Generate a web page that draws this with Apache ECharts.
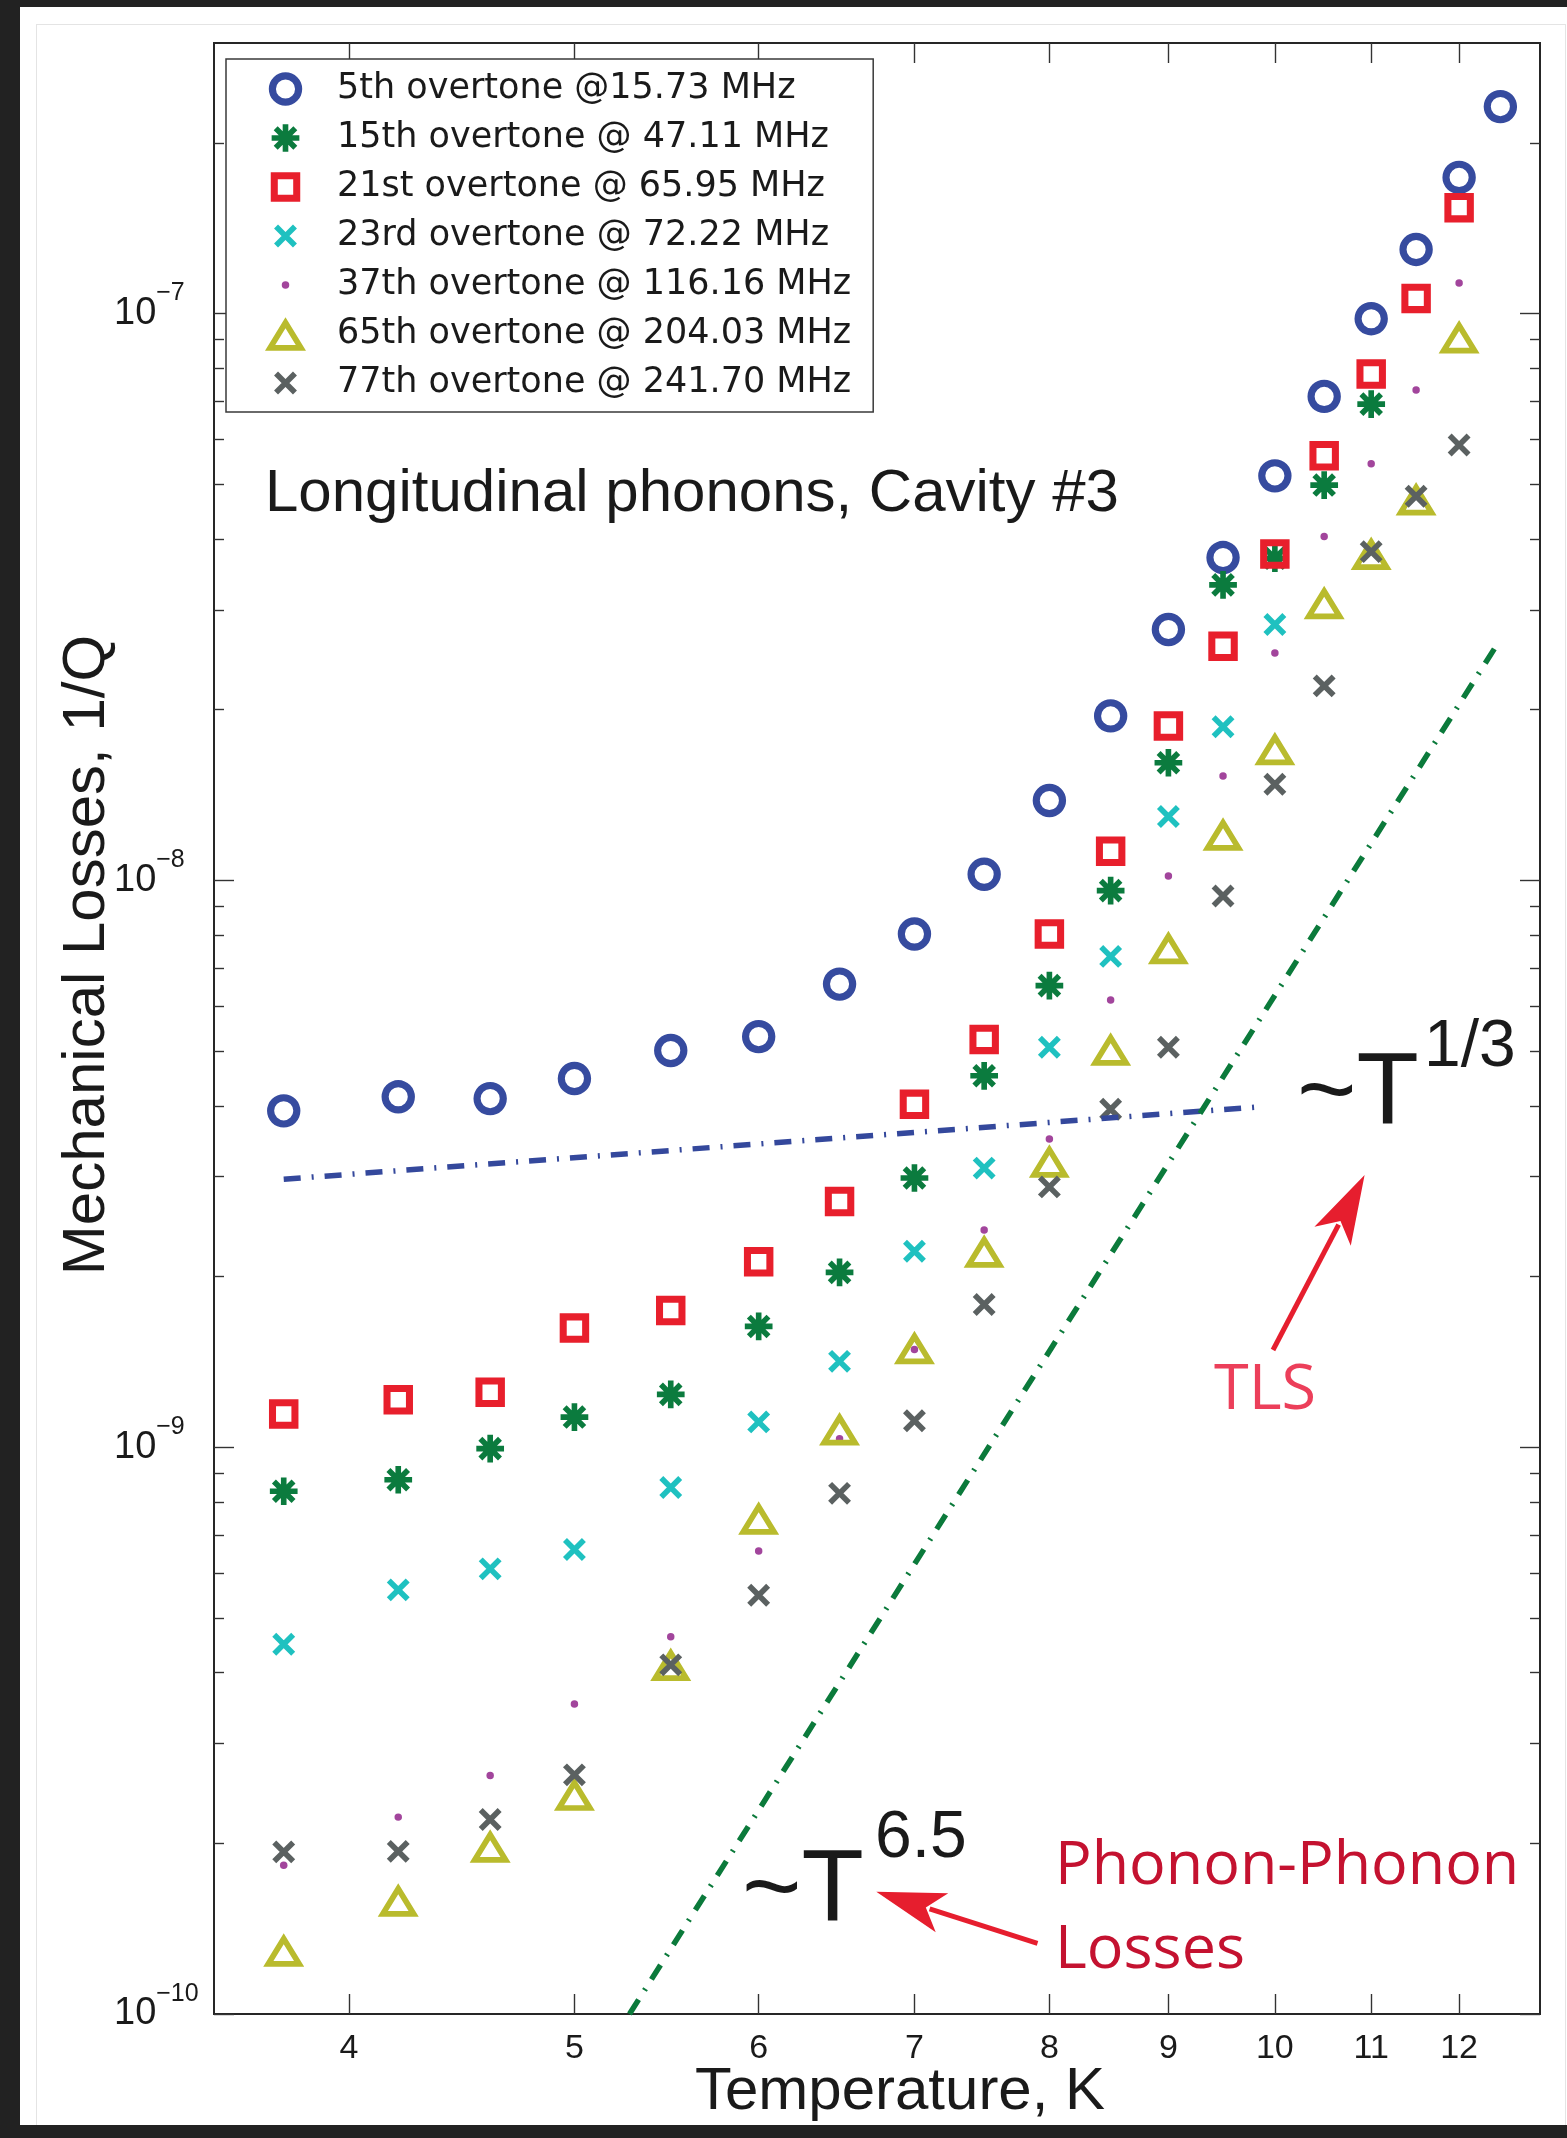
<!DOCTYPE html>
<html>
<head>
<meta charset="utf-8">
<title>Longitudinal phonons, Cavity #3</title>
<script src="https://cdn.jsdelivr.net/npm/echarts@6/dist/echarts.min.js"></script>
<style>
  html, body { margin: 0; padding: 0; width: 1567px; height: 2138px; background: #222222; overflow: hidden; }
  #sheet { position: absolute; left: 20px; top: 7px; width: 1547px; height: 2118px; background: #ffffff; }
  #edge { position: absolute; left: 36px; top: 24px; width: 1530px; height: 2101px; box-sizing: border-box;
          border-left: 1px solid #e4e4e4; border-top: 1px solid #e4e4e4; border-right: 1px solid #e4e4e4; }
  #chart { position: absolute; left: 0; top: 0; width: 1567px; height: 2138px; }
</style>
</head>
<body>
<div id="sheet"></div>
<div id="edge"></div>
<div id="chart"></div>
<script>
// Measurement temperatures, K (each overtone list below starts at the first one)
const temperatures = [3.75, 4.2, 4.6, 5, 5.5, 6, 6.5, 7, 7.5, 8, 8.5, 9, 9.5, 10, 10.5, 11, 11.5, 12, 12.5];

// Mechanical losses 1/Q for each overtone
const loss5th  = [3.92e-9, 4.15e-9, 4.12e-9, 4.47e-9, 5.01e-9, 5.30e-9, 6.56e-9, 8.04e-9, 1.025e-8, 1.383e-8,
                  1.95e-8, 2.77e-8, 3.71e-8, 5.17e-8, 7.14e-8, 9.79e-8, 1.297e-7, 1.738e-7, 2.317e-7];
const loss15th = [8.36e-10, 8.76e-10, 9.94e-10, 1.13e-9, 1.239e-9, 1.633e-9, 2.034e-9, 2.984e-9, 4.52e-9, 6.52e-9,
                  9.59e-9, 1.612e-8, 3.32e-8, 3.70e-8, 4.98e-8, 6.92e-8];
const loss21st = [1.144e-9, 1.212e-9, 1.25e-9, 1.622e-9, 1.742e-9, 2.123e-9, 2.712e-9, 4.025e-9, 5.24e-9, 8.04e-9,
                  1.125e-8, 1.872e-8, 2.587e-8, 3.763e-8, 5.61e-8, 7.82e-8, 1.063e-7, 1.537e-7];
const loss23rd = [4.49e-10, 5.60e-10, 6.10e-10, 6.60e-10, 8.49e-10, 1.108e-9, 1.417e-9, 2.216e-9, 3.107e-9, 5.075e-9,
                  7.34e-9, 1.296e-8, 1.866e-8, 2.827e-8];
const loss37th = [1.83e-10, 2.225e-10, 2.634e-10, 3.523e-10, 4.63e-10, 6.56e-10, 1.035e-9, 1.487e-9, 2.415e-9, 3.497e-9,
                  6.15e-9, 1.018e-8, 1.527e-8, 2.518e-8, 4.04e-8, 5.43e-8, 7.33e-8, 1.132e-7];
const loss65th = [1.297e-10, 1.589e-10, 1.978e-10, 2.443e-10, 4.14e-10, 7.50e-10, 1.078e-9, 1.499e-9, 2.219e-9, 3.199e-9,
                  5.04e-9, 7.61e-9, 1.207e-8, 1.708e-8, 3.09e-8, 3.775e-8, 4.71e-8, 9.10e-8];
const loss77th = [1.932e-10, 1.936e-10, 2.203e-10, 2.642e-10, 4.13e-10, 5.48e-10, 8.29e-10, 1.113e-9, 1.785e-9, 2.878e-9,
                  3.945e-9, 5.075e-9, 9.38e-9, 1.477e-8, 2.203e-8, 3.80e-8, 4.76e-8, 5.86e-8];

// Power-law guides: TLS ~T^(1/3) and phonon-phonon ~T^6.5 (end points)
const tlsGuideT = [3.75, 9.9];
const tlsGuideQ = [2.97e-9, 3.99e-9];
const phononGuideT = [5.28, 12.47];
const phononGuideQ = [1.0e-10, 2.62e-8];

// Axis ticks
const xTicks = [4, 5, 6, 7, 8, 9, 10, 11, 12];
const yDecades = [1e-10, 1e-9, 1e-8, 1e-7];
const yMinor = [2e-10, 3e-10, 4e-10, 5e-10, 6e-10, 7e-10, 8e-10, 9e-10,
                2e-9, 3e-9, 4e-9, 5e-9, 6e-9, 7e-9, 8e-9, 9e-9,
                2e-8, 3e-8, 4e-8, 5e-8, 6e-8, 7e-8, 8e-8, 9e-8,
                2e-7];

const axisFont = 'Liberation Sans, Arial, Helvetica, sans-serif';
const inkColor = '#1a1a1a';
const frameColor = '#262626';

// Marker glyphs in a 0..100 box (the two leading moves pin the box so every glyph keeps its own size)
const glyph = {
  ring:     'path://M0 0M100 100M12.05 50A37.95 37.95 0 1 1 87.95 50A37.95 37.95 0 1 1 12.05 50Z' +
            'M28.3 50A21.7 21.7 0 1 0 71.7 50A21.7 21.7 0 1 0 28.3 50Z',
  asterisk: 'path://M0 0M100 100M43.6 18.5L56.4 18.5L56.4 81.5L43.6 81.5Z' +
            'M18.5 43.6L81.5 43.6L81.5 56.4L18.5 56.4Z' +
            'M32.2 23.2L76.8 67.8L67.8 76.8L23.2 32.2Z' +
            'M23.2 67.8L67.8 23.2L76.8 32.2L32.2 76.8Z',
  box:      'path://M0 0M100 100M16.5 16.5L83.5 16.5L83.5 83.5L16.5 83.5Z' +
            'M32.5 32.5L32.5 67.5L67.5 67.5L67.5 32.5Z',
  cross:    'path://M0 0M100 100M33 24L76 67L67 76L24 33Z' +
            'M24 67L67 24L76 33L33 76Z',
  dot:      'path://M0 0M100 100M41.5 50A8.5 8.5 0 1 1 58.5 50A8.5 8.5 0 1 1 41.5 50Z',
  delta:    'path://M0 0M100 100M50 11.95L96.6 88.05L3.4 88.05Z' +
            'M50 36.85L26.61 75.05L73.39 75.05Z'
};
const glyphSize = 44;

const overtones = [
  { name: '5th overtone @15.73 MHz',    values: loss5th,  symbol: glyph.ring,     color: '#364b9f' },
  { name: '15th overtone @ 47.11 MHz',  values: loss15th, symbol: glyph.asterisk, color: '#0b7b3e' },
  { name: '21st overtone @ 65.95 MHz',  values: loss21st, symbol: glyph.box,      color: '#e81f2c' },
  { name: '23rd overtone @ 72.22 MHz',  values: loss23rd, symbol: glyph.cross,    color: '#1fc1c0' },
  { name: '37th overtone @ 116.16 MHz', values: loss37th, symbol: glyph.dot,      color: '#a2459c' },
  { name: '65th overtone @ 204.03 MHz', values: loss65th, symbol: glyph.delta,    color: '#b9bb2d' },
  { name: '77th overtone @ 241.70 MHz', values: loss77th, symbol: glyph.cross,    color: '#5b6161' }
];

const pair = (ts, qs) => qs.map((q, i) => [ts[i], q]);

const scatterSeries = overtones.map(o => ({
  type: 'scatter',
  name: o.name,
  xAxisIndex: 0,
  yAxisIndex: 0,
  symbol: o.symbol,
  symbolSize: glyphSize,
  itemStyle: { color: o.color, borderWidth: 0, opacity: 1 },
  emphasis: { disabled: true },
  data: pair(temperatures, o.values),
  z: 3
}));

const guide = (name, ts, qs, color) => ({
  type: 'line',
  name: name,
  xAxisIndex: 0,
  yAxisIndex: 0,
  data: pair(ts, qs),
  symbol: 'none',
  silent: true,
  lineStyle: { color: color, width: 5.5, type: [17, 11, 2, 11], cap: 'butt' },
  emphasis: { disabled: true },
  z: 4
});

function xAxisDef(position, withLabels) {
  return {
    type: 'log', logBase: 10, min: 3.5, max: 13, position: position,
    axisLine: { show: true, onZero: false, lineStyle: { color: frameColor, width: 2 } },
    axisTick: { show: true, inside: true, length: 20, customValues: xTicks, lineStyle: { color: '#333333', width: 1.4 } },
    axisLabel: withLabels ? {
      show: true, customValues: xTicks, margin: 18,
      formatter: v => String(Math.round(v)),
      fontFamily: axisFont, fontSize: 34, lineHeight: 34, color: inkColor
    } : { show: false },
    splitLine: { show: false },
    minorTick: { show: false }
  };
}

function yAxisDef(position, ticks, tickLen, withLabels) {
  const axis = {
    type: 'log', logBase: 10, min: 1e-10, max: 3e-7, position: position,
    axisLine: { show: true, onZero: false, lineStyle: { color: frameColor, width: 2 } },
    axisTick: { show: true, inside: true, length: tickLen, customValues: ticks, lineStyle: { color: '#333333', width: 1.4 } },
    axisLabel: { show: false },
    splitLine: { show: false },
    minorTick: { show: false }
  };
  if (withLabels) {
    axis.axisLabel = {
      show: true, customValues: ticks, align: 'left', margin: 100,
      formatter: v => '{b|10}{s|\u2212' + Math.abs(Math.round(Math.log10(v))) + '}',
      rich: {
        b: { fontFamily: axisFont, fontSize: 38, lineHeight: 38, color: inkColor },
        s: { fontFamily: axisFont, fontSize: 25, lineHeight: 25, color: inkColor, padding: [0, 0, 40, 0] }
      }
    };
  }
  return axis;
}

const xMain = xAxisDef('bottom', true);
Object.assign(xMain, {
  name: 'Temperature, K', nameLocation: 'middle', nameGap: 48, nameMoveOverlap: false,
  nameTextStyle: { fontFamily: axisFont, fontSize: 60, lineHeight: 60, color: inkColor, padding: [0, 0, 0, 46] }
});

const yMain = yAxisDef('left', yDecades, 20, true);
Object.assign(yMain, {
  name: 'Mechanical Losses, 1/Q', nameLocation: 'middle', nameRotate: 90, nameGap: 96.5, nameMoveOverlap: false,
  nameTextStyle: { fontFamily: axisFont, fontSize: 60, lineHeight: 60, color: inkColor, padding: [0, 0, 0, 147] }
});

// Arrow with a notched head, drawn from its tail to its tip
function arrow(tail, tip, color) {
  const dx = tip[0] - tail[0], dy = tip[1] - tail[1];
  const len = Math.hypot(dx, dy);
  const ux = dx / len, uy = dy / len;      // along the shaft
  const px = -uy, py = ux;                  // across the shaft
  const headLen = 69, halfW = 20.5, notch = 52;
  const base = [tip[0] - ux * headLen, tip[1] - uy * headLen];
  const inner = [tip[0] - ux * notch, tip[1] - uy * notch];
  return [
    { type: 'line', z: 10, silent: true,
      shape: { x1: tail[0], y1: tail[1], x2: inner[0] - ux * 4, y2: inner[1] - uy * 4 },
      style: { stroke: color, lineWidth: 5 } },
    { type: 'polygon', z: 10, silent: true,
      shape: { points: [tip, [base[0] + px * halfW, base[1] + py * halfW], inner, [base[0] - px * halfW, base[1] - py * halfW]] },
      style: { fill: color } }
  ];
}

function label(text, x, y, font, color) {
  return { type: 'text', x: x, y: y, z: 10, silent: true,
           style: { text: text, font: font, fill: color, align: 'left', verticalAlign: 'middle',
                    textAlign: 'left', textVerticalAlign: 'middle' } };
}

const arrowRed = '#e61e2e';
const annotations = [
  label('Longitudinal phonons, Cavity #3', 265, 494, '60px ' + axisFont, inkColor),
  label('~T', 1297, 1096, '102px ' + axisFont, inkColor),
  label('1/3', 1424, 1048, '66px ' + axisFont, inkColor),
  label('~T', 742, 1893, '102px ' + axisFont, inkColor),
  label('6.5', 875, 1839, '66px ' + axisFont, inkColor),
  label('TLS', 1214, 1391, '63px "Open Sans", sans-serif', '#ec3f5a'),
  label('Phonon-Phonon', 1055, 1867, '61px "Open Sans", sans-serif', '#c41230'),
  label('Losses', 1055, 1951, '61px "Open Sans", sans-serif', '#c41230')
].concat(arrow([1273, 1350], [1364.6, 1175], arrowRed))
 .concat(arrow([1037.5, 1943.4], [876.3, 1891.7], arrowRed));

const chart = echarts.init(document.getElementById('chart'), null, { renderer: 'canvas' });
chart.setOption({
  animation: false,
  backgroundColor: 'transparent',
  grid: { left: 214, top: 43, width: 1326, height: 1971, outerBoundsMode: 'none', containLabel: false },
  legend: {
    orient: 'vertical', left: 226, top: 59,
    padding: [8, 22, 7, 37.5],
    itemWidth: glyphSize, itemHeight: glyphSize, itemGap: 5,
    selectedMode: false,
    backgroundColor: '#ffffff', borderColor: '#3a3a3a', borderWidth: 1.5, borderRadius: 0,
    textStyle: { fontFamily: 'DejaVu Sans, sans-serif', fontSize: 35, lineHeight: 36, color: inkColor,
                 padding: [0, 0, 0, 24.5] },
    data: overtones.map(o => o.name),
    z: 8
  },
  xAxis: [xMain, xAxisDef('top', false)],
  yAxis: [
    yMain,
    yAxisDef('left', yMinor, 10, false),
    yAxisDef('right', yDecades, 20, false),
    yAxisDef('right', yMinor, 10, false)
  ],
  series: scatterSeries.concat([
    guide('TLS ~T^1/3', tlsGuideT, tlsGuideQ, '#34489c'),
    guide('Phonon-phonon ~T^6.5', phononGuideT, phononGuideQ, '#0b7a3b')
  ]),
  graphic: annotations
});
</script>
</body>
</html>
